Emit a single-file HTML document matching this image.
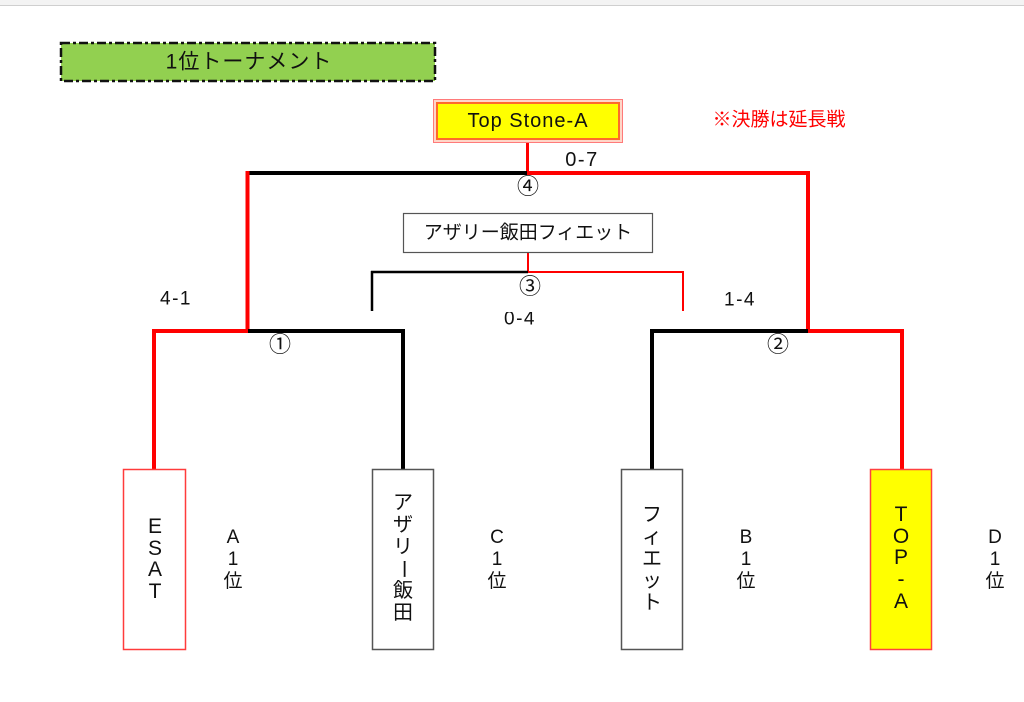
<!DOCTYPE html>
<html>
<head>
<meta charset="utf-8">
<style>
  html,body{margin:0;padding:0;background:#fff;}
  body{width:1024px;height:702px;position:relative;overflow:hidden;
       font-family:"Liberation Sans","Noto Sans CJK JP",sans-serif;color:#111;}
  .c{position:absolute;transform:translate(-50%,-50%);white-space:nowrap;line-height:1;}
  .box{position:absolute;box-sizing:border-box;background:#fff;}
  .col{position:absolute;transform:translateX(-50%);text-align:center;white-space:nowrap;}
  .col span{display:block;}
  .circ{font-family:"Noto Sans CJK JP",sans-serif;}
</style>
</head>
<body>
<!-- top band -->
<div style="position:absolute;left:0;top:0;width:1024px;height:5px;background:#f3f3f3;"></div>
<div style="position:absolute;left:0;top:5px;width:1024px;height:1px;background:#cfcfcf;"></div>

<svg width="1024" height="702" style="position:absolute;left:0;top:0;" xmlns="http://www.w3.org/2000/svg">
  <!-- title box -->
  <rect x="61" y="43" width="374" height="38" fill="#92d050" stroke="#111" stroke-width="2.5" stroke-dasharray="9 3 3 3"/>
  <!-- final -->
  <line x1="527.5" y1="143" x2="527.5" y2="173" stroke="#ff0000" stroke-width="3"/>
  <line x1="246" y1="173" x2="528" y2="173" stroke="#000" stroke-width="4"/>
  <line x1="527" y1="173" x2="810" y2="173" stroke="#ff0000" stroke-width="4"/>
  <line x1="247.5" y1="171" x2="247.5" y2="331" stroke="#ff0000" stroke-width="4"/>
  <line x1="808" y1="171" x2="808" y2="331" stroke="#ff0000" stroke-width="4"/>
  <!-- match 1 -->
  <line x1="152" y1="331" x2="248" y2="331" stroke="#ff0000" stroke-width="4"/>
  <line x1="248" y1="331" x2="405" y2="331" stroke="#000" stroke-width="4"/>
  <line x1="154" y1="329" x2="154" y2="469" stroke="#ff0000" stroke-width="4"/>
  <line x1="403" y1="329" x2="403" y2="469" stroke="#000" stroke-width="4"/>
  <!-- match 2 -->
  <line x1="650" y1="331" x2="808" y2="331" stroke="#000" stroke-width="4"/>
  <line x1="808" y1="331" x2="904" y2="331" stroke="#ff0000" stroke-width="4"/>
  <line x1="652" y1="329" x2="652" y2="469" stroke="#000" stroke-width="4"/>
  <line x1="902" y1="329" x2="902" y2="469" stroke="#ff0000" stroke-width="4"/>
  <!-- match 3 -->
  <line x1="528" y1="252" x2="528" y2="272" stroke="#ff0000" stroke-width="2"/>
  <line x1="371" y1="272" x2="528" y2="272" stroke="#000" stroke-width="2.5"/>
  <line x1="528" y1="272" x2="684" y2="272" stroke="#ff0000" stroke-width="2"/>
  <line x1="372" y1="271" x2="372" y2="311" stroke="#000" stroke-width="2.5"/>
  <line x1="683" y1="271" x2="683" y2="311" stroke="#ff0000" stroke-width="2"/>
  <!-- team boxes -->
  <rect x="123.5" y="469.5" width="62" height="180" fill="#fff" stroke="#ff3b3b" stroke-width="1.5"/>
  <rect x="372.5" y="469.5" width="61" height="180" fill="#fff" stroke="#555" stroke-width="1.5"/>
  <rect x="621.5" y="469.5" width="61" height="180" fill="#fff" stroke="#555" stroke-width="1.5"/>
  <rect x="870.5" y="469.5" width="61" height="180" fill="#ffff00" stroke="#ff4040" stroke-width="1.5"/>
  <!-- third place box -->
  <rect x="403.5" y="213.5" width="249" height="39" fill="#fff" stroke="#555" stroke-width="1.2"/>
</svg>

<!-- title text -->
<div class="c" style="left:249px;top:62px;font-size:21px;letter-spacing:1px;">1位トーナメント</div>

<!-- winner box -->
<div class="box" style="left:433px;top:99px;width:190px;height:44px;border:1px solid #ff7a7a;padding:2px;background:#ffd6c8;">
  <div style="width:100%;height:100%;box-sizing:border-box;border:2px solid #ff6a2a;background:#ffff00;"></div>
</div>
<div class="c" style="left:528px;top:121px;font-size:20px;letter-spacing:1px;">Top Stone-A</div>

<div class="c" style="left:779px;top:120px;font-size:19px;color:#ff0000;">※決勝は延長戦</div>

<!-- scores & match numbers -->
<div class="c" style="left:582px;top:160px;font-size:20px;letter-spacing:1.5px;">0-7</div>
<div class="c circ" style="left:528px;top:185px;font-size:22px;">④</div>
<div class="c" style="left:176px;top:299px;font-size:19px;letter-spacing:1.5px;">4-1</div>
<div class="c" style="left:740px;top:300px;font-size:19px;letter-spacing:1.5px;">1-4</div>
<div class="c circ" style="left:530px;top:285px;font-size:22px;">③</div>
<div style="position:absolute;left:490px;top:312px;width:60px;height:24px;overflow:hidden;">
  <div class="c" style="left:30px;top:7px;font-size:19px;letter-spacing:1.5px;">0-4</div>
</div>
<div class="c circ" style="left:280px;top:343px;font-size:22px;">①</div>
<div class="c circ" style="left:778px;top:343px;font-size:22px;">②</div>

<!-- third place winner text -->
<div class="c" style="left:528px;top:233px;font-size:19px;">アザリー飯田フィエット</div>

<!-- team names vertical -->
<div class="col" style="left:155px;top:516px;font-size:21px;line-height:21.5px;">
  <span>E</span><span>S</span><span>A</span><span>T</span>
</div>
<div class="col" style="left:403px;top:492px;font-size:20px;line-height:22px;">
  <span>ア</span><span>ザ</span><span>リ</span><span><span style="display:inline-block;transform:rotate(90deg);">ー</span></span><span>飯</span><span>田</span>
</div>
<div class="col" style="left:652px;top:504px;font-size:20px;line-height:22px;">
  <span>フ</span><span>ィ</span><span>エ</span><span>ッ</span><span>ト</span>
</div>
<div class="col" style="left:901px;top:504px;font-size:21px;line-height:21.7px;">
  <span>T</span><span>O</span><span>P</span><span>-</span><span>A</span>
</div>

<!-- seeds -->
<div class="col" style="left:233px;top:527px;font-size:19px;line-height:22px;"><span>A</span><span>1</span><span>位</span></div>
<div class="col" style="left:497px;top:527px;font-size:19px;line-height:22px;"><span>C</span><span>1</span><span>位</span></div>
<div class="col" style="left:746px;top:527px;font-size:19px;line-height:22px;"><span>B</span><span>1</span><span>位</span></div>
<div class="col" style="left:995px;top:527px;font-size:19px;line-height:22px;"><span>D</span><span>1</span><span>位</span></div>
</body>
</html>
